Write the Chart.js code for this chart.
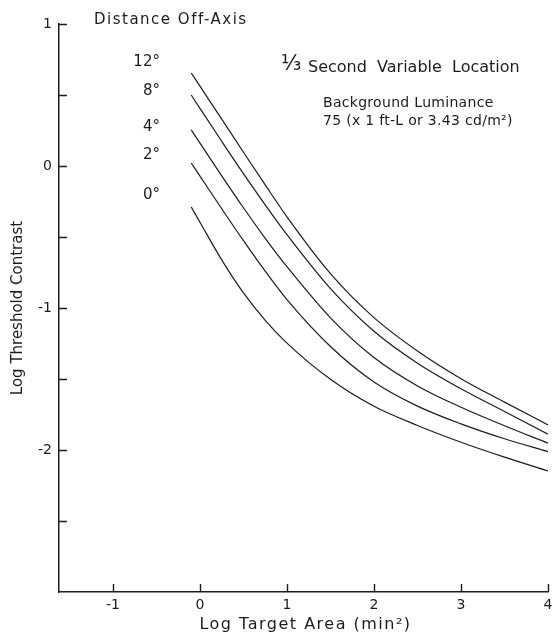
<!DOCTYPE html>
<html>
<head>
<meta charset="utf-8">
<script src="https://cdn.jsdelivr.net/npm/chart.js@4.4.0/dist/chart.umd.min.js"></script>
<style>
  html, body { margin: 0; padding: 0; background: #fff; }
  #wrap { width: 553px; height: 639px; position: relative; }
</style>
</head>
<body>
<div id="wrap"><canvas id="thresholdChart"></canvas></div>
<script>
const logArea = [-0.1, 0, 0.25, 0.5, 0.75, 1, 1.5, 2, 2.5, 3, 3.5, 4];

// log threshold contrast, one array per distance off-axis
const offAxis12 = [0.655, 0.562, 0.330, 0.097, -0.133, -0.358, -0.758, -1.068, -1.303, -1.498, -1.663, -1.823];
const offAxis8 = [0.5, 0.406, 0.174, -0.054, -0.274, -0.484, -0.864, -1.164, -1.389, -1.569, -1.729, -1.889];
const offAxis4 = [0.254, 0.161, -0.069, -0.294, -0.509, -0.709, -1.069, -1.349, -1.549, -1.699, -1.829, -1.952];
const offAxis2 = [0.021, -0.071, -0.301, -0.526, -0.741, -0.941, -1.271, -1.521, -1.691, -1.816, -1.921, -2.011];
const offAxis0 = [-0.289, -0.396, -0.661, -0.894, -1.087, -1.247, -1.502, -1.692, -1.827, -1.945, -2.050, -2.147];

const curveNames = ["12°", "8°", "4°", "2°", "0°"];
// where each curve name sits (data units, right edge of text)
const nameX = -0.46;
const nameY = [0.732, 0.528, 0.275, 0.077, -0.204];

const xTicks = [-1, 0, 1, 2, 3, 4];
const yTicks = [1, 0.5, 0, -0.5, -1, -1.5, -2, -2.5];

const FONT = "'DejaVu Sans', sans-serif";
const INK = "#1c1c1c";

function toPoints(ys) {
  return logArea.map((x, i) => ({ x: x, y: ys[i] }));
}

const series = [offAxis12, offAxis8, offAxis4, offAxis2, offAxis0];

// inward tick marks + the free text on the plot
const extras = {
  id: "extras",
  afterDraw(chart) {
    const ctx = chart.ctx;
    const xs = chart.scales.x, ys = chart.scales.y;
    const area = chart.chartArea;
    ctx.save();
    ctx.strokeStyle = INK;
    ctx.lineWidth = 1.4;
    ctx.beginPath();
    xTicks.forEach(v => {
      const px = Math.round(xs.getPixelForValue(v)) + 0.5;
      ctx.moveTo(px, area.bottom);
      ctx.lineTo(px, area.bottom - 8);
    });
    yTicks.forEach(v => {
      const py = Math.round(ys.getPixelForValue(v)) + 0.5;
      ctx.moveTo(area.left, py);
      ctx.lineTo(area.left + 8, py);
    });
    ctx.stroke();

    ctx.fillStyle = INK;
    ctx.textBaseline = "middle";
    ctx.textAlign = "right";
    ctx.font = "15px " + FONT;
    curveNames.forEach((n, i) => {
      ctx.fillText(n, xs.getPixelForValue(nameX), ys.getPixelForValue(nameY[i]));
    });

    // x axis title, spaced out like the lettering guide
    ctx.textAlign = "center";
    ctx.letterSpacing = "1.5px";
    ctx.font = "16px " + FONT;
    ctx.fillText("Log Target Area (min²)", (area.left + area.right) / 2 + 2, 625);

    ctx.textBaseline = "alphabetic";
    ctx.textAlign = "left";
    ctx.letterSpacing = "1.5px";
    ctx.font = "15px " + FONT;
    ctx.fillText("Distance Off-Axis", 94, 24);

    ctx.letterSpacing = "0px";
    ctx.font = "21px " + FONT;
    ctx.fillText("⅓", 281, 70);
    ctx.font = "16px " + FONT;
    ctx.fillText("Second  Variable  Location", 308, 72);
    ctx.letterSpacing = "0.3px";
    ctx.font = "14px " + FONT;
    ctx.fillText("Background Luminance", 323, 107);
    ctx.fillText("75 (x 1 ft-L or 3.43 cd/m²)", 323, 125);
    ctx.restore();
  }
};

const ctx = document.getElementById("thresholdChart").getContext("2d");
const chart = new Chart(ctx, {
  type: "scatter",
  data: {
    datasets: series.map((s, i) => ({
      label: curveNames[i],
      data: toPoints(s),
      showLine: true,
      borderColor: INK,
      borderWidth: 1.2,
      pointRadius: 0,
      cubicInterpolationMode: "monotone",
      fill: false
    }))
  },
  options: {
    responsive: true,
    maintainAspectRatio: false,
    animation: false,
    layout: { padding: { top: 24, right: 5, left: 0, bottom: 0 } },
    plugins: {
      legend: { display: false },
      tooltip: { enabled: false }
    },
    scales: {
      x: {
        type: "linear",
        min: -1.62,
        max: 4,
        afterBuildTicks: s => { s.ticks = xTicks.map(v => ({ value: v })); },
        afterFit: s => { s.height = 47; s.paddingLeft = 0; s.paddingRight = 0; },
        grid: { display: false, drawTicks: false, tickLength: 0 },
        border: { display: true, color: INK, width: 1.5 },
        ticks: {
          color: INK,
          font: { family: FONT, size: 14 },
          padding: 5,
          maxRotation: 0,
          callback: v => String(v)
        }
      },
      y: {
        type: "linear",
        min: -3,
        max: 1,
        afterBuildTicks: s => { s.ticks = yTicks.map(v => ({ value: v })); },
        afterFit: s => { s.width = 59; s.paddingTop = 0; s.paddingBottom = 0; },
        grid: { display: false, drawTicks: false, tickLength: 0 },
        border: { display: true, color: INK, width: 1.5 },
        ticks: {
          color: INK,
          font: { family: FONT, size: 14 },
          padding: 7,
          callback: v => (Number.isInteger(v) ? String(v) : "")
        },
        title: {
          display: true,
          text: "Log Threshold Contrast",
          color: INK,
          font: { family: FONT, size: 15 },
          padding: { top: 9, bottom: 0 }
        }
      }
    }
  },
  plugins: [extras]
});
</script>
</body>
</html>
